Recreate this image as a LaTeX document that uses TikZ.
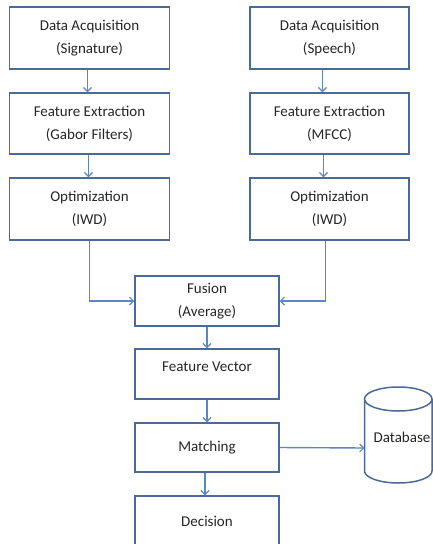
\documentclass[tikz,border=0pt]{standalone}
\usepackage{fontspec}
\setmainfont{Carlito}
\usetikzlibrary{arrows.meta}
\definecolor{boxline}{HTML}{4A6A98}
\definecolor{arrline}{HTML}{5B86C2}
\begin{document}
\begin{tikzpicture}[x=1pt,y=-1pt,
  blk/.style={draw=boxline, line width=1.5pt, fill=white, inner sep=0pt,
    align=center, font=\fontsize{15}{23}\selectfont, text=black!85},
  lbl/.style={font=\fontsize{15}{23}\selectfont, text=black!85},
  conn/.style={draw=arrline, line width=1.4pt, -{Straight Barb[length=4pt,width=8pt,line width=1.2pt]}}]
\useasboundingbox (0,0) rectangle (433,544);
% left column
\node[blk, minimum width=160pt, minimum height=62pt] (a1) at (89.5,38) {Data Acquisition\\(Signature)};
\node[blk, minimum width=160pt, minimum height=61pt] (a2) at (89.5,123.5) {Feature Extraction\\(Gabor Filters)};
\node[blk, minimum width=160pt, minimum height=62pt] (a3) at (89.5,209) {Optimization\\(IWD)};
% right column
\node[blk, minimum width=159pt, minimum height=62pt] (b1) at (329.5,38) {Data Acquisition\\(Speech)};
\node[blk, minimum width=159pt, minimum height=61pt] (b2) at (329.5,123.5) {Feature Extraction\\(MFCC)};
\node[blk, minimum width=159pt, minimum height=62pt] (b3) at (329.5,209) {Optimization\\(IWD)};
% centre column
\node[blk, minimum width=144pt, minimum height=50pt] (fu) at (207,301) {Fusion\\(Average)};
\node[blk, minimum width=144pt, minimum height=50pt] (fv) at (207,374) {};
\node[lbl] (fvt) at (207,367) {Feature Vector};
\node[blk, minimum width=144pt, minimum height=49pt] (ma) at (207,447.5) {Matching};
\node[blk, minimum width=144pt, minimum height=50pt] (de) at (207,521) {Decision};
% database cylinder
\draw[boxline, line width=1.5pt, fill=white]
  (364.5,399) -- (364.5,471) arc[start angle=180, end angle=0, x radius=33.75, y radius=12]
  -- (432,399) arc[start angle=0, end angle=-180, x radius=33.75, y radius=12]
  arc[start angle=180, end angle=0, x radius=33.75, y radius=12];
\node[lbl] (dbt) at (402,437) {Database};
\coordinate (db) at (364.5,448);
% connectors
\draw[conn] ([xshift=-2pt]a1.south) -- ([xshift=-2pt]a2.north);
\draw[conn] ([xshift=-1pt]a2.south) -- ([xshift=-1pt]a3.north);
\draw[conn] ([xshift=-7pt]b1.south) -- ([xshift=-7pt]b2.north);
\draw[conn] ([xshift=-6pt]b2.south) -- ([xshift=-6pt]b3.north);
\draw[conn] (a3.south) |- (fu.west);
\draw[conn] ([xshift=-4pt]b3.south) |- (fu.east);
\draw[conn] (fu.south) -- (fv.north);
\draw[conn] (fv.south) -- (ma.north);
\draw[conn] ([xshift=-2pt]ma.south) -- ([xshift=-2pt]de.north);
\draw[conn] (ma.east) -- (db);
\end{tikzpicture}
\end{document}
